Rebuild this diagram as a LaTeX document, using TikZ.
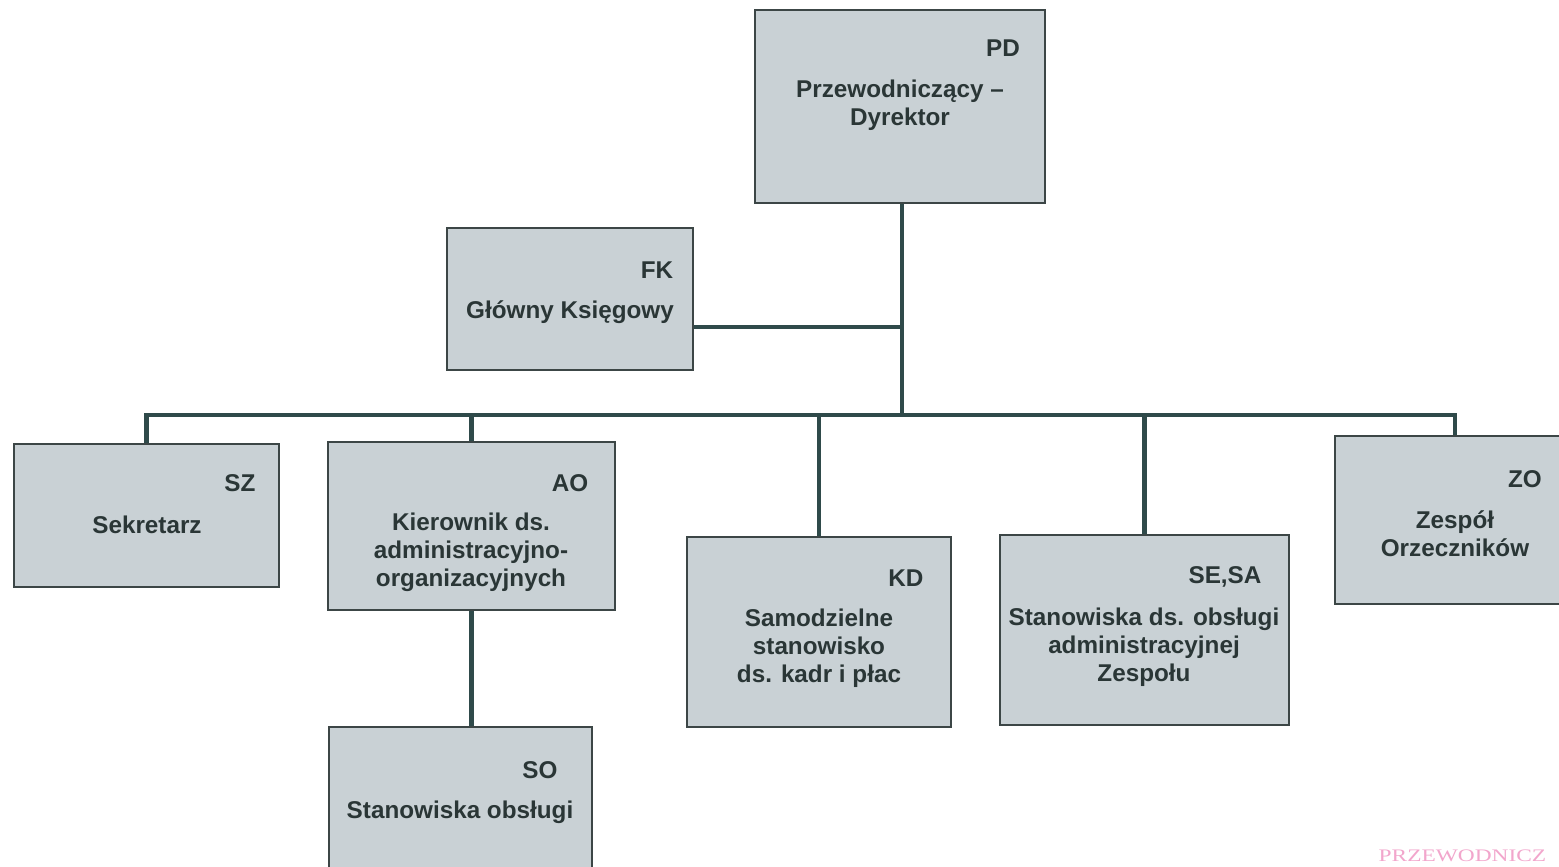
\documentclass[tikz,border=0pt]{standalone}
\usepackage{fontspec}
\setmainfont{Liberation Sans}
\newfontfamily\stampfont{Liberation Serif}
\usetikzlibrary{positioning}
\definecolor{boxfill}{HTML}{C9D1D5}
\definecolor{boxline}{HTML}{3C4646}
\definecolor{wire}{HTML}{2F4A4A}
\definecolor{ink}{HTML}{2A3636}
\definecolor{stamp}{HTML}{F2A6CC}
\tikzset{unit/.style={draw=boxline, line width=0.6pt, fill=boxfill, inner sep=0pt},
  title/.style={text=ink, font=\fontsize{6.9}{7.97}\selectfont\bfseries, align=center, inner sep=0pt},
  code/.style={text=ink, font=\fontsize{6.9}{7.97}\selectfont\bfseries, inner sep=0pt},
  link/.style={draw=wire, line width=1.15pt}}

\begin{document}
\begin{tikzpicture}[x=0.01cm, y=-0.01cm]
\useasboundingbox[fill=white] (0,0) rectangle (1559,867);
% boxes
\node[unit, minimum width=2.90cm, minimum height=1.93cm] (pd) at (900,106.5) {};
\node[unit, minimum width=2.46cm, minimum height=1.42cm] (fk) at (570,299) {};
\node[unit, minimum width=2.65cm, minimum height=1.43cm] (sz) at (146.5,515.5) {};
\node[unit, minimum width=2.87cm, minimum height=1.68cm] (ao) at (471.5,526) {};
\node[unit, minimum width=2.64cm, minimum height=1.90cm] (kd) at (819,632) {};
\node[unit, minimum width=2.89cm, minimum height=1.90cm] (se) at (1144.5,630) {};
\node[unit, minimum width=2.40cm, minimum height=1.68cm] (zo) at (1455,520) {};
\node[unit, minimum width=2.63cm, minimum height=1.60cm] (so) at (460.5,807) {};
% texts
\node[code] (pdc) at (1003,48) {PD};
\node[title] (pdt) at (900,105) {Przewodniczący –\\Dyrektor};
\node[code] (fkc) at (657,270) {FK};
\node[title] (fkt) at (570,312) {Główny Księgowy};
\node[code] (szc) at (240,483) {SZ};
\node[title] (szt) at (147,525) {Sekretarz};
\node[code] (aoc) at (570,483) {AO};
\node[title] (aot) at (471,552) {Kierownik ds.\\administracyjno-\\organizacyjnych};
\node[code] (kdc) at (906,578) {KD};
\node[title] (kdt) at (819,648) {Samodzielne\\stanowisko\\ds. kadr i płac};
\node[code] (sec) at (1225,577) {SE,SA};
\node[title] (set) at (1144,647) {Stanowiska ds. obsługi\\administracyjnej\\Zespołu};
\node[code] (zoc) at (1525,479) {ZO};
\node[title] (zot) at (1455,534) {Zespół\\Orzeczników};
\node[code] (soc) at (540,770) {SO};
\node[title] (sot) at (460,812) {Stanowiska obsługi};
\node[text=stamp, font=\stampfont\fontsize{5}{6}\selectfont, anchor=west, inner sep=0pt] (stamp) at (1378,856) {\scalebox{1.33}[1]{PRZEWODNICZ}};
% connectors
\coordinate (bus) at (902,415);
\coordinate (fkj) at (902,327);
\draw[link] (pd.south -| bus) -- (bus);
\draw[link] (fkj) -- (fkj -| fk.east);
\draw[link] (sz.north) -- (sz.north |- bus) -- (zo.north |- bus) -- (zo.north);
\draw[link] (ao.north |- bus) -- (ao.north);
\draw[link] (kd.north |- bus) -- (kd.north);
\draw[link] (se.north |- bus) -- (se.north);
\draw[link] (ao.south) -- (ao.south |- so.north);
\end{tikzpicture}
\end{document}
